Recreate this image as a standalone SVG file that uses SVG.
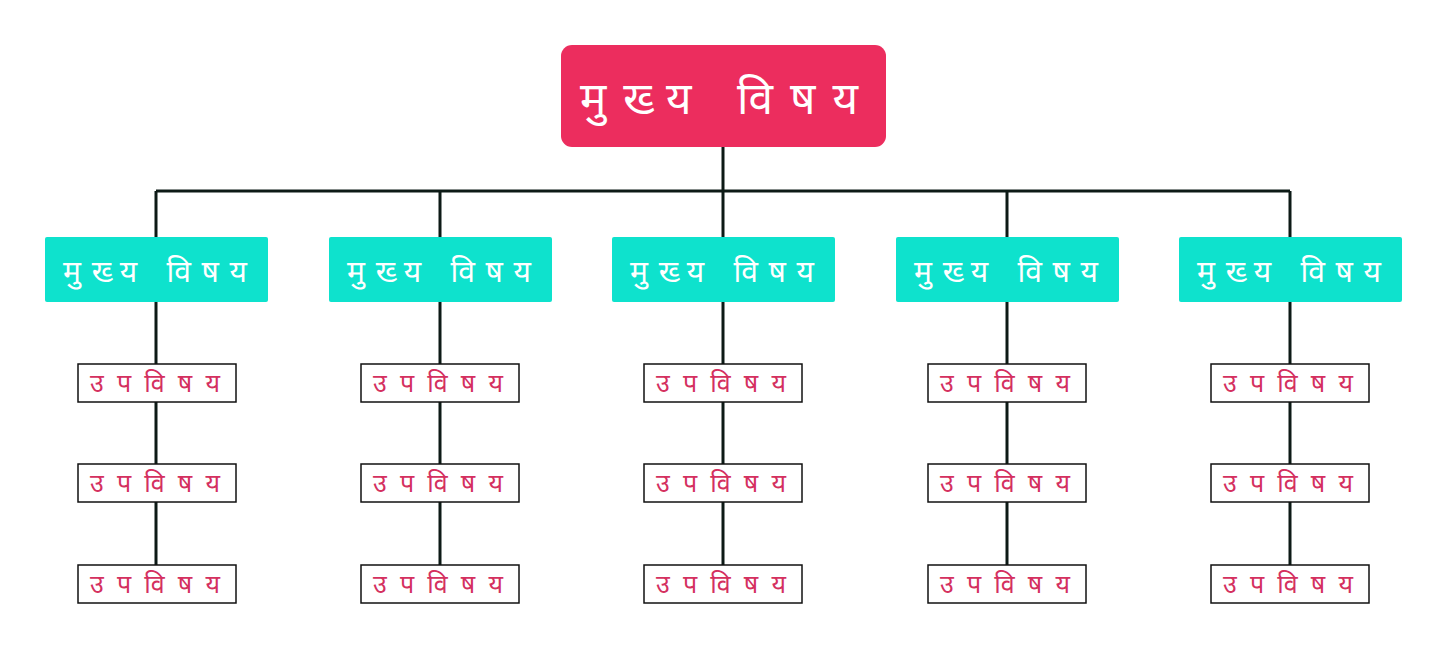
<svg xmlns="http://www.w3.org/2000/svg" width="1448" height="664" viewBox="0 0 1448 664">
<style>
.ln{stroke:#0d1a16;stroke-width:3;fill:none}
.l2{fill:#0ee2cd}
.sub{fill:#fff;stroke:#111;stroke-width:1.5}
.t{font-family:"Noto Sans","DejaVu Sans",sans-serif;text-anchor:middle}
.t1{fill:#fff;font-size:44px}
.t2{fill:#fff;font-size:30px}
.t3{fill:#d4305f;font-size:25px}
</style>
<rect width="1448" height="664" fill="#fff"/>
<g id="connectors">
<path class="ln" d="M723 147V191M156 191H1290M156 191V237M440 191V237M1007 191V237M1290 191V237M723 191V237"/>
<path class="ln" d="M156 302V565M440 302V565M723 302V565M1007 302V565M1290 302V565"/>
</g>
<g id="root"><rect x="561" y="45" width="325" height="102" rx="11" fill="#ec2d5e"/><text class="t t1" x="719" y="114" textLength="278" lengthAdjust="spacing">मुख्य विषय</text></g>
<g id="main1"><rect class="l2" x="45" y="237" width="223" height="65" rx="2"/><text class="t t2" x="155" y="282" textLength="184" lengthAdjust="spacing">मुख्य विषय</text></g>
<g id="main2"><rect class="l2" x="329" y="237" width="223" height="65" rx="2"/><text class="t t2" x="439" y="282" textLength="184" lengthAdjust="spacing">मुख्य विषय</text></g>
<g id="main3"><rect class="l2" x="612" y="237" width="223" height="65" rx="2"/><text class="t t2" x="722" y="282" textLength="184" lengthAdjust="spacing">मुख्य विषय</text></g>
<g id="main4"><rect class="l2" x="896" y="237" width="223" height="65" rx="2"/><text class="t t2" x="1006" y="282" textLength="184" lengthAdjust="spacing">मुख्य विषय</text></g>
<g id="main5"><rect class="l2" x="1179" y="237" width="223" height="65" rx="2"/><text class="t t2" x="1289" y="282" textLength="184" lengthAdjust="spacing">मुख्य विषय</text></g>
<g id="sub1a"><rect class="sub" x="78" y="364" width="158" height="38"/><text class="t t3" x="155" y="392" textLength="130" lengthAdjust="spacing">उपविषय</text></g>
<g id="sub1b"><rect class="sub" x="78" y="464" width="158" height="38"/><text class="t t3" x="155" y="492" textLength="130" lengthAdjust="spacing">उपविषय</text></g>
<g id="sub1c"><rect class="sub" x="78" y="565" width="158" height="38"/><text class="t t3" x="155" y="593" textLength="130" lengthAdjust="spacing">उपविषय</text></g>
<g id="sub2a"><rect class="sub" x="361" y="364" width="158" height="38"/><text class="t t3" x="438" y="392" textLength="130" lengthAdjust="spacing">उपविषय</text></g>
<g id="sub2b"><rect class="sub" x="361" y="464" width="158" height="38"/><text class="t t3" x="438" y="492" textLength="130" lengthAdjust="spacing">उपविषय</text></g>
<g id="sub2c"><rect class="sub" x="361" y="565" width="158" height="38"/><text class="t t3" x="438" y="593" textLength="130" lengthAdjust="spacing">उपविषय</text></g>
<g id="sub3a"><rect class="sub" x="644" y="364" width="158" height="38"/><text class="t t3" x="721" y="392" textLength="130" lengthAdjust="spacing">उपविषय</text></g>
<g id="sub3b"><rect class="sub" x="644" y="464" width="158" height="38"/><text class="t t3" x="721" y="492" textLength="130" lengthAdjust="spacing">उपविषय</text></g>
<g id="sub3c"><rect class="sub" x="644" y="565" width="158" height="38"/><text class="t t3" x="721" y="593" textLength="130" lengthAdjust="spacing">उपविषय</text></g>
<g id="sub4a"><rect class="sub" x="928" y="364" width="158" height="38"/><text class="t t3" x="1005" y="392" textLength="130" lengthAdjust="spacing">उपविषय</text></g>
<g id="sub4b"><rect class="sub" x="928" y="464" width="158" height="38"/><text class="t t3" x="1005" y="492" textLength="130" lengthAdjust="spacing">उपविषय</text></g>
<g id="sub4c"><rect class="sub" x="928" y="565" width="158" height="38"/><text class="t t3" x="1005" y="593" textLength="130" lengthAdjust="spacing">उपविषय</text></g>
<g id="sub5a"><rect class="sub" x="1211" y="364" width="158" height="38"/><text class="t t3" x="1288" y="392" textLength="130" lengthAdjust="spacing">उपविषय</text></g>
<g id="sub5b"><rect class="sub" x="1211" y="464" width="158" height="38"/><text class="t t3" x="1288" y="492" textLength="130" lengthAdjust="spacing">उपविषय</text></g>
<g id="sub5c"><rect class="sub" x="1211" y="565" width="158" height="38"/><text class="t t3" x="1288" y="593" textLength="130" lengthAdjust="spacing">उपविषय</text></g>
</svg>
